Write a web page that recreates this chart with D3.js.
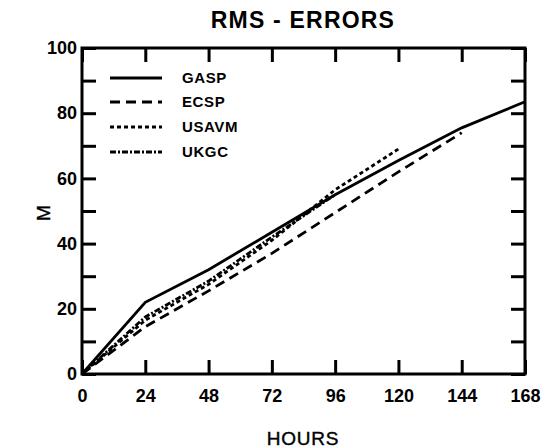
<!DOCTYPE html>
<html>
<head>
<meta charset="utf-8">
<script src="https://cdn.jsdelivr.net/npm/d3@7"></script>
<style>
  html, body { margin: 0; padding: 0; background: #fff; }
  svg { display: block; }
  text { font-family: "Liberation Sans", Arial, Helvetica, sans-serif; fill: #000; }
</style>
</head>
<body>
<svg id="chart" width="555" height="448"></svg>
<script>
// ---- data ----
const hours = [0, 24, 48, 72, 96, 120, 144, 168];
const xTicks = [0, 24, 48, 72, 96, 120, 144, 168];
const yTickLabels = [0, 20, 40, 60, 80, 100];
const yTicks = [0, 10, 20, 30, 40, 50, 60, 70, 80, 90, 100];
const seriesNames = ["GASP", "ECSP", "USAVM", "UKGC"];
const gasp  = [0, 22, 32, 43.5, 55, 65.5, 75.5, 83.5];
const ecsp  = [0, 14.5, 25.5, 37, 49.5, 62, 74];
const usavm = [0, 16.5, 27.5, 41, 56.5, 69];
const ukgc  = [0, 17.5, 28.5, 42, 55];
const seriesValues = [gasp, ecsp, usavm, ukgc];
const dashes = [null, "10,6", "4,3", "6,2,2,2"];

const svg = d3.select("#chart");
const x = d3.scaleLinear().domain([0, 168]).range([82, 525]);
const y = d3.scaleLinear().domain([0, 100]).range([374, 48]);

// title
svg.append("text").attr("x", 303).attr("y", 28).attr("text-anchor", "middle")
  .style("font-size", "23px").style("font-weight", "bold").style("letter-spacing", "1.2px")
  .text("RMS - ERRORS");

// inward ticks
const tickLen = 14;
const gB = svg.append("g").attr("transform", `translate(0,${y(0)})`)
  .call(d3.axisBottom(x).tickValues(xTicks).tickSize(-tickLen).tickFormat(""));
const gT = svg.append("g").attr("transform", `translate(0,${y(100)})`)
  .call(d3.axisTop(x).tickValues(xTicks).tickSize(-tickLen).tickFormat(""));
const gL = svg.append("g").attr("transform", `translate(${x(0)},0)`)
  .call(d3.axisLeft(y).tickValues(yTicks).tickSize(-tickLen).tickFormat(""));
const gR = svg.append("g").attr("transform", `translate(${x(168)},0)`)
  .call(d3.axisRight(y).tickValues(yTicks).tickSize(-tickLen).tickFormat(""));
[gB, gT, gL, gR].forEach(g => {
  g.select(".domain").remove();
  g.selectAll(".tick line").attr("stroke", "#000").attr("stroke-width", 3);
});

// tick labels
const lb = svg.append("g").attr("transform", `translate(0,${y(0)})`)
  .call(d3.axisBottom(x).tickValues(xTicks).tickSize(0).tickPadding(15).tickFormat(d3.format("d")));
const ll = svg.append("g").attr("transform", `translate(${x(0) - 5},0)`)
  .call(d3.axisLeft(y).tickValues(yTickLabels).tickSize(0).tickPadding(0).tickFormat(d3.format("d")));
[lb, ll].forEach(g => {
  g.select(".domain").remove();
  g.selectAll("text").attr("fill", "#000")
    .style("font-family", '"Liberation Sans", Arial, sans-serif')
    .style("font-size", "18px").style("font-weight", "bold");
});

// frame
svg.append("rect").attr("x", x(0)).attr("y", y(100))
  .attr("width", x(168) - x(0)).attr("height", y(0) - y(100))
  .attr("fill", "none").attr("stroke", "#000").attr("stroke-width", 3);

// lines
const line = d3.line().x((d, i) => x(hours[i])).y(d => y(d));
seriesValues.forEach((vals, i) => {
  svg.append("path").datum(vals).attr("d", line)
    .attr("fill", "none").attr("stroke", "#000")
    .attr("stroke-width", 2.8)
    .attr("stroke-dasharray", dashes[i]);
});

// legend
const legY = [78, 102, 127, 152];
seriesNames.forEach((name, i) => {
  svg.append("line").attr("x1", 110).attr("x2", 162).attr("y1", legY[i]).attr("y2", legY[i])
    .attr("stroke", "#000").attr("stroke-width", 2.8).attr("stroke-dasharray", dashes[i]);
  svg.append("text").attr("x", 182).attr("y", legY[i] + 5)
    .style("font-size", "15px").style("font-weight", "bold").style("letter-spacing", "0.6px")
    .text(name);
});

// axis titles
svg.append("text").attr("x", 303).attr("y", 445).attr("text-anchor", "middle")
  .style("font-size", "19px").style("letter-spacing", "0.8px")
  .attr("stroke", "#000").attr("stroke-width", 0.4).text("HOURS");
svg.append("text").attr("transform", "translate(50,213) rotate(-90)").attr("text-anchor", "middle")
  .style("font-size", "19px").attr("stroke", "#000").attr("stroke-width", 0.4).text("M");
</script>
</body>
</html>
